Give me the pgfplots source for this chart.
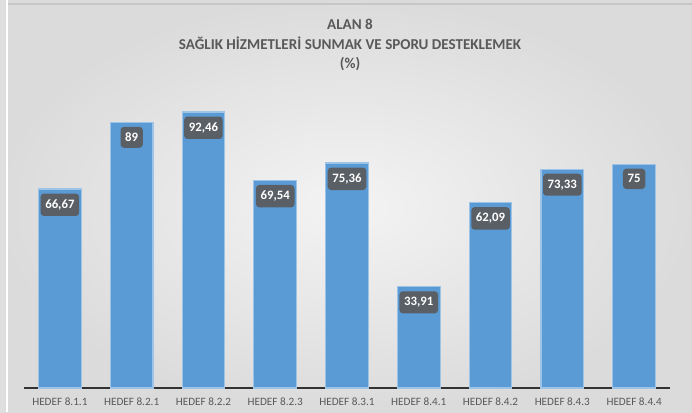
\documentclass[border=0pt]{standalone}
\usepackage{pgfplots}
\pgfplotsset{compat=1.18}
\usepackage{fontspec}
\setmainfont{Carlito}
\definecolor{barblue}{HTML}{5B9BD5}
\definecolor{baredge}{HTML}{9DC3E6}
\definecolor{boxgray}{HTML}{5A5F66}
\definecolor{txtgray}{HTML}{595959}
\begin{document}
\begin{tikzpicture}[x=0.75pt,y=0.75pt]
\useasboundingbox (0,0) rectangle (692,412);
% background panel (692 x 412 px)
\shade[inner color=gray!9, outer color=gray!28] (0,0) rectangle (692,412);
\fill[gray!25] (0,0) rectangle (5,412);
\draw[white, line width=1.5] (6.5,0) -- (6.5,412);
\draw[gray!45, line width=0.8] (8,408) -- (692,408);
\begin{axis}[
    at={(18pt,18pt)}, anchor=south west,
    scale only axis,
    width=484.5pt, height=223.9pt,
    ymin=0, ymax=100,
    xmin=-0.5, xmax=8.5,
    ybar, bar width=32pt,
    axis x line=bottom, axis y line=none,
    x axis line style={-, draw=black!80, line width=0.8pt},
    xtick=data,
    xticklabels={HEDEF 8.1.1, HEDEF 8.2.1, HEDEF 8.2.2, HEDEF 8.2.3, HEDEF 8.3.1, HEDEF 8.4.1, HEDEF 8.4.2, HEDEF 8.4.3, HEDEF 8.4.4},
    major tick length=0pt,
    xticklabel style={font=\fontsize{8.4pt}{9pt}\selectfont, text=txtgray, yshift=-4pt},
    /pgf/number format/assume math mode=true,
    /pgf/number format/use comma,
    /pgf/number format/fixed,
    /pgf/number format/precision=2,
    nodes near coords,
    nodes near coords style={anchor=north, yshift=-3pt, fill=boxgray, text=white,
        rounded corners=2.5pt, font=\bfseries\fontsize{9.6pt}{10pt}\selectfont,
        inner xsep=3.5pt, inner ysep=4.5pt},
    clip=false,
]
\addplot[fill=barblue, draw=baredge, line width=0.8pt] coordinates {
    (0,66.67) (1,89) (2,92.46) (3,69.54) (4,75.36)
    (5,33.91) (6,62.09) (7,73.33) (8,75)
};
\end{axis}
\node[font=\bfseries\fontsize{11.3pt}{14.5pt}\selectfont, text=txtgray, align=center] at (350,367)
  {ALAN 8\\SAĞLIK HİZMETLERİ SUNMAK VE SPORU DESTEKLEMEK\\(\%)};
\end{tikzpicture}
\end{document}
